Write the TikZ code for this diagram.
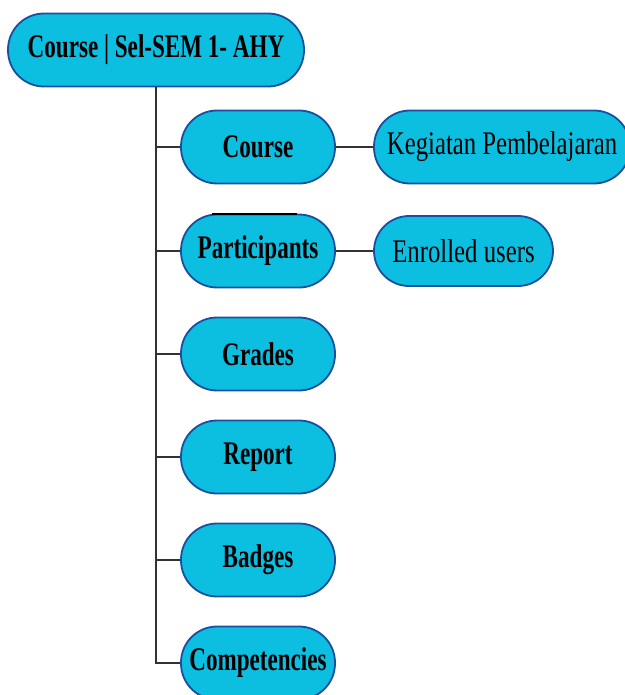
\documentclass[tikz,border=0pt]{standalone}
\usepackage{fontspec}
\setmainfont{Liberation Serif}[FakeStretch=0.75]
\newfontfamily\headfont{Liberation Serif}[FakeStretch=0.70]
\usetikzlibrary{positioning}
\definecolor{boxfill}{RGB}{12,190,224}
\definecolor{boxline}{RGB}{28,78,160}
\definecolor{wire}{RGB}{50,50,50}
\begin{document}
\begin{tikzpicture}[x=1pt, y=-1pt,
    box/.style={draw=boxline, fill=boxfill, line width=1.8pt, rounded corners=36pt,
      minimum height=73pt, inner sep=0pt, font=\fontsize{33}{35}\selectfont},
    head/.style={box, font=\fontsize{33}{35}\headfont\bfseries},
    wire/.style={draw=wire, line width=1.4pt}]
    \useasboundingbox (0,0) rectangle (624,695);
    % top of the tree
    \node[head, minimum width=296pt] (root) at (156,50) {Course | Sel-SEM 1- AHY};
    % menu items
    \node[head, minimum width=154pt] (course) at (258,147) {Course};
    \node[head, minimum width=154pt] (participants) at (258,251) {Participants};
    \node[head, minimum width=154pt] (grades) at (258,354) {Grades};
    \node[head, minimum width=154pt] (report) at (258,457) {Report};
    \node[head, minimum width=154pt] (badges) at (258,560) {Badges};
    \node[head, minimum width=154pt] (competencies) at (258,663) {Competencies};
    % what each item opens
    \node[box, minimum width=256pt] (kegiatan) at (502,147) {Kegiatan Pembelajaran};
    \node[box, minimum width=179pt, minimum height=70pt, rounded corners=35pt] (enrolled) at (463.5,251) {Enrolled users};
    \foreach \item in {course, participants, grades, report, badges, competencies}
        \draw[wire] (root.south) |- (\item.west);
    \draw[wire] (course.east) -- (kegiatan.west);
    \draw[wire] (participants.east) -- (enrolled.west);
    \draw[line width=1.6pt] (212,214) -- (297,214);
\end{tikzpicture}
\end{document}
